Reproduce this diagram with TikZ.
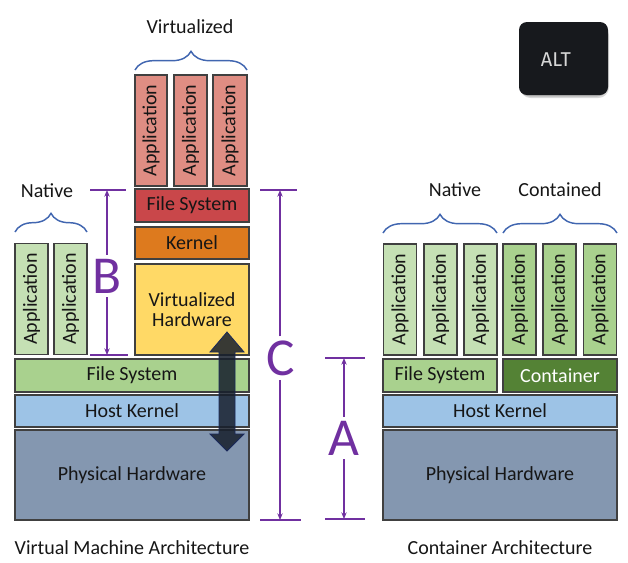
\documentclass[tikz,border=0pt]{standalone}
\usepackage{fontspec}
\setmainfont{Carlito}
\newfontfamily\altfont{Fira Sans}
\usetikzlibrary{arrows.meta,decorations.pathreplacing}
\definecolor{physc}{HTML}{8497B0}
\definecolor{hkc}{HTML}{9DC3E6}
\definecolor{fsgc}{HTML}{A9D18E}
\definecolor{appnc}{HTML}{C5E0B4}
\definecolor{appcc}{HTML}{A9D18E}
\definecolor{contc}{HTML}{548235}
\definecolor{vhwc}{HTML}{FFD966}
\definecolor{kernc}{HTML}{DD7A1E}
\definecolor{fsrc}{HTML}{C9474A}
\definecolor{appvc}{HTML}{DF8D83}
\definecolor{purp}{HTML}{7030A0}
\definecolor{bracec}{HTML}{4166B0}
\definecolor{edgec}{HTML}{404040}
\definecolor{txtc}{HTML}{161616}
\tikzset{
  box/.style={draw=edgec, line width=0.8pt, inner sep=0pt, text=txtc,
    font=\fontsize{15}{16.5}\selectfont},
  layer/.style={box, minimum width=#1*0.75pt},
  appbox/.style={box, rotate=90, minimum width=83.25pt, minimum height=24.75pt},
  dimline/.style={draw=purp, line width=1pt},
  dimarrow/.style={dimline, -{Stealth[length=5pt,width=4pt]}},
  dimlabel/.style={text=purp, font=\fontsize{40}{40}\selectfont, inner sep=3pt},
  bracestyle/.style={draw=bracec, line width=1.1pt,
    decorate, decoration={brace, amplitude=14pt}},
  heading/.style={text=txtc, font=\fontsize{15}{16.5}\selectfont, inner sep=0pt},
}
\begin{document}
\begin{tikzpicture}[x=0.75pt,y=-0.75pt]
\useasboundingbox (0,0) rectangle (628,562);
% ---------- left: virtual machine architecture ----------
\node[layer=234, fill=physc, minimum height=67.5pt] (physL) at (132,475) {Physical Hardware};
\node[layer=234, fill=hkc, minimum height=24pt] (hkL) at (132,411) {Host Kernel};
\node[layer=234, fill=fsgc, minimum height=24.75pt] (fsL) at (132,375.5) {File System};
\node[appbox, fill=appnc] (nL1) at (31.5,299) {Application};
\node[appbox, fill=appnc] (nL2) at (70.5,299) {Application};
\node[layer=114, fill=vhwc, minimum height=68.25pt, align=center] (vhw) at (192,309.5) {Virtualized\\[-1pt]Hardware};
\node[layer=114, fill=kernc, minimum height=24pt] (kern) at (192,243) {Kernel};
\node[layer=114, fill=fsrc, minimum height=24.75pt] (fsV) at (192,205.5) {File System};
\node[appbox, fill=appvc, minimum height=24pt] (v1) at (151,130.5) {Application};
\node[appbox, fill=appvc, minimum height=24.75pt] (v2) at (190.5,130.5) {Application};
\node[appbox, fill=appvc, minimum height=25.5pt] (v3) at (230,130.5) {Application};
% braces left
\coordinate (bvL) at (135,70); \coordinate (bvR) at (247,70);
\draw[bracestyle] (bvL) -- (bvR);
\node[heading] (tVirt) at (190,27) {Virtualized};
\coordinate (bnL) at (15,232); \coordinate (bnR) at (87,232);
\draw[bracestyle] (bnL) -- (bnR);
\node[heading] (tNatL) at (47,191) {Native};
% double arrow
\path[fill={rgb,255:red,22;green,30;blue,44}, fill opacity=0.85, draw={rgb,255:red,25;green,40;blue,90}, line width=0.6pt]
  (227,332) -- (244,352) -- (235,352) -- (235,434) -- (244,434) -- (227,451)
  -- (210,434) -- (219,434) -- (219,352) -- (210,352) -- cycle;
% dimension B
\coordinate (Bt1) at (90,190); \coordinate (Bt2) at (126,190);
\coordinate (Bb1) at (90,355); \coordinate (Bb2) at (128,355);
\coordinate (Btop) at (107,190); \coordinate (Bbot) at (107,355);
\draw[dimline] (Bt1) -- (Bt2); \draw[dimline] (Bb1) -- (Bb2);
\node[dimlabel] (lB) at (107,276) {B};
\draw[dimarrow] (lB.north) -- (Btop);
\draw[dimarrow] (lB.south) -- (Bbot);
% dimension C
\coordinate (Ct1) at (260,190); \coordinate (Ct2) at (297,190);
\coordinate (Cb1) at (260,520); \coordinate (Cb2) at (301,520);
\coordinate (Ctop) at (280,190); \coordinate (Cbot) at (280,520);
\draw[dimline] (Ct1) -- (Ct2); \draw[dimline] (Cb1) -- (Cb2);
\node[dimlabel] (lC) at (281,358) {C};
\draw[dimarrow] (lC.north -| Ctop) -- (Ctop);
\draw[dimarrow] (lC.south -| Cbot) -- (Cbot);
% dimension A
\coordinate (At1) at (325,358); \coordinate (At2) at (365,358);
\coordinate (Ab1) at (325,519); \coordinate (Ab2) at (365,519);
\coordinate (Atop) at (344,358); \coordinate (Abot) at (344,519);
\draw[dimline] (At1) -- (At2); \draw[dimline] (Ab1) -- (Ab2);
\node[dimlabel] (lA) at (344,438) {A};
\draw[dimarrow] (lA.north) -- (Atop);
\draw[dimarrow] (lA.south) -- (Abot);
\node[heading] (capL) at (132,548) {Virtual Machine Architecture};
% ---------- right: container architecture ----------
\node[layer=234, fill=physc, minimum height=67.5pt] (physR) at (500,475) {Physical Hardware};
\node[layer=234, fill=hkc, minimum height=24pt] (hkR) at (500,411) {Host Kernel};
\node[layer=114, fill=fsgc, minimum height=24.75pt] (fsR) at (440,375.5) {File System};
\node[layer=114, fill=contc, minimum height=24.75pt, text=white] (cont) at (560,375.5) {Container};
\node[appbox, fill=appnc] (nR1) at (400,299.5) {Application};
\node[appbox, fill=appnc] (nR2) at (440.5,299.5) {Application};
\node[appbox, fill=appnc] (nR3) at (480.5,299.5) {Application};
\node[appbox, fill=appcc] (cR1) at (519.5,299.5) {Application};
\node[appbox, fill=appcc] (cR2) at (559.5,299.5) {Application};
\node[appbox, fill=appcc] (cR3) at (600,299.5) {Application};
\coordinate (bnRL) at (383,233); \coordinate (bnRR) at (497,233);
\draw[bracestyle] (bnRL) -- (bnRR);
\node[heading] (tNatR) at (455,190) {Native};
\coordinate (bcL) at (503,233); \coordinate (bcR) at (617,233);
\draw[bracestyle] (bcL) -- (bcR);
\node[heading] (tCont) at (560,190) {Contained};
\node[heading] (capR) at (500,548) {Container Architecture};
% ---------- ALT badge ----------
\fill[black!30, opacity=0.5, rounded corners=8pt] (520,25) rectangle (609,98);
\fill[black!45, opacity=0.4, rounded corners=8pt] (519,23) rectangle (608,96.5);
\node[fill={rgb,255:red,23;green,25;blue,29}, rounded corners=6pt, minimum width=66.75pt, minimum height=54.75pt, inner sep=0pt] (alt) at (563.5,58.5) {};
\node[text={rgb,255:red,215;green,215;blue,215}, font=\altfont\fontsize{15}{16}\selectfont, inner sep=0pt] (altt) at (556,60) {ALT};
\end{tikzpicture}
\end{document}
